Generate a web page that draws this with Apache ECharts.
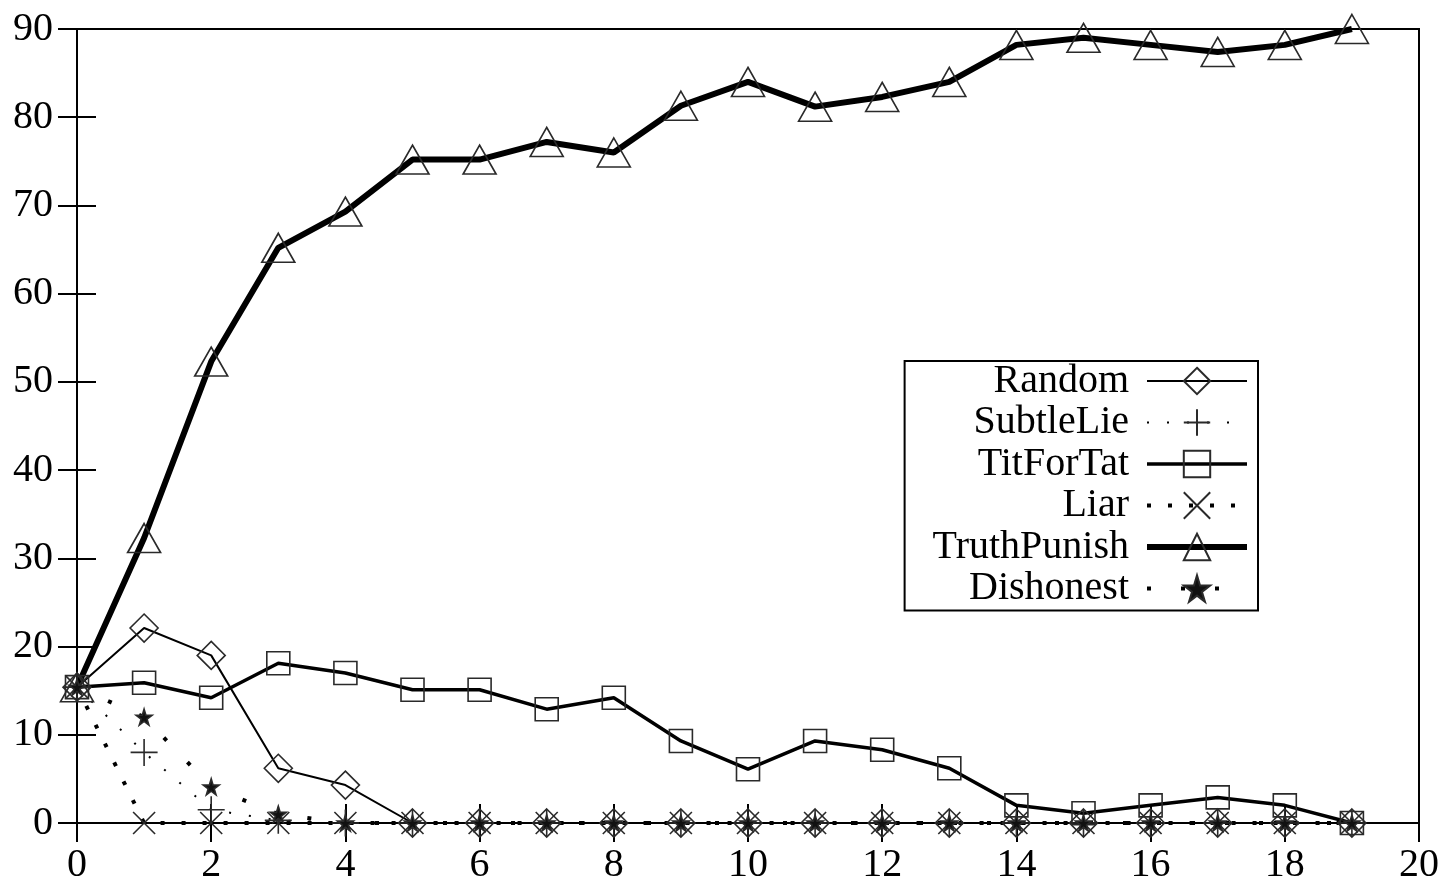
<!DOCTYPE html>
<html><head><meta charset="utf-8">
<script src="https://cdn.jsdelivr.net/npm/echarts@6/dist/echarts.min.js"></script>
<style>html,body{margin:0;padding:0;background:#fff}#c{width:1449px;height:885px}</style>
</head><body><div id="c"></div>
<script>
const generations = [0,1,2,3,4,5,6,7,8,9,10,11,12,13,14,15,16,17,18,19];
const random      = [15.4,22.1,19.0,6.2,4.3,0,0,0,0,0,0,0,0,0,0,0,0,0,0,0];
const subtleLie   = [15.4,8.0,1.5,0.3,0,0,0,0,0,0,0,0,0,0,0,0,0,0,0,0];
const titForTat   = [15.4,15.9,14.2,18.1,17.0,15.1,15.1,12.9,14.2,9.3,6.1,9.3,8.3,6.2,2.0,1.1,2.0,2.9,2.0,0];
const liar        = [15.4,0,0,0,0,0,0,0,0,0,0,0,0,0,0,0,0,0,0,0];
const truthPunish = [15.4,32.3,52.3,65.2,69.3,75.2,75.2,77.2,76.0,81.3,84.0,81.2,82.3,84.0,88.2,89.0,88.2,87.4,88.2,90.0];
const dishonest   = [15.4,12.0,4.1,1.0,0,0,0,0,0,0,0,0,0,0,0,0,0,0,0,0];
const legendNames = ['Random','SubtleLie','TitForTat','Liar','TruthPunish','Dishonest'];
const xTicks = {min:0, max:20, interval:2};
const yTicks = {min:0, max:90, interval:10};

const FONT = 'Liberation Serif';
const SYM = {
  diamond: 'path://M10,0L20,10L10,20L0,10Z',
  plus: 'path://M0,10L20,10M10,0L10,20',
  rect: 'path://M0,0L20,0L20,20L0,20Z',
  cross: 'path://M0,0L20,20M20,0L0,20',
  triangle: 'path://M10,0L20,18L0,18Z',
  star: 'path://M50,0L61,35L98,35L68,57L79,91L50,70L21,91L32,57L2,35L39,35Z'
};
const STYLE = {
  Random:      {sym:SYM.diamond,  size:28,      lw:2,   dash:'solid'},
  SubtleLie:   {sym:SYM.plus,     size:27,      lw:2,   dash:[2,18]},
  TitForTat:   {sym:SYM.rect,     size:23,      lw:3.5, dash:'solid'},
  Liar:        {sym:SYM.cross,    size:22,      lw:4,   dash:[4,17]},
  TruthPunish: {sym:SYM.triangle, size:[33,29], lw:6,   dash:'solid'},
  Dishonest:   {sym:SYM.star,     size:16,      lw:4,   dash:[4,30], fill:'#111'}
};
function pts(arr){ return arr.map((v,i)=>[generations[i], v]); }
function mk(name, data){
  const s = STYLE[name];
  return {
    name, type:'line', data: pts(data), symbol: s.sym, symbolSize: s.size, clip:false,
    showAllSymbol:true, animation:false,
    itemStyle:{color: s.fill||'rgba(0,0,0,0)', borderColor:'#2a2a2a', borderWidth:1.6},
    lineStyle:{color:'#000', width: s.lw, type: s.dash, cap:'butt'},
    emphasis:{disabled:true}
  };
}
const chart = echarts.init(document.getElementById('c'), null, {renderer:'canvas'});
const axisLabel = {color:'#000', fontFamily:FONT, fontSize:40};
const tick = {inside:true, length:19, lineStyle:{color:'#000', width:2}};
chart.setOption({
  backgroundColor:'#fff',
  animation:false,
  grid:{left:77, top:29, right:30, bottom:62, show:true, borderColor:'#000', borderWidth:2},
  xAxis:[
    {type:'value', min:xTicks.min, max:xTicks.max, interval:xTicks.interval,
     axisLine:{show:false}, splitLine:{show:false}, axisTick:tick,
     axisLabel:Object.assign({margin:22}, axisLabel)},
    {type:'value', position:'top', min:xTicks.min, max:xTicks.max, interval:xTicks.interval,
     axisLine:{show:false}, splitLine:{show:false}, axisTick:tick, axisLabel:{show:false}}
  ],
  yAxis:[
    {type:'value', min:yTicks.min, max:yTicks.max, interval:yTicks.interval,
     axisLine:{show:false}, splitLine:{show:false}, axisTick:tick,
     axisLabel:Object.assign({margin:24}, axisLabel)},
    {type:'value', position:'right', min:yTicks.min, max:yTicks.max, interval:yTicks.interval,
     axisLine:{show:false}, splitLine:{show:false}, axisTick:tick, axisLabel:{show:false}}
  ],
  legend:{
    orient:'vertical', align:'right', right:191, top:361,
    backgroundColor:'#fff', borderColor:'#000', borderWidth:2,
    padding:[0,8,2,28], itemGap:1.5, itemWidth:100, itemHeight:33,
    textStyle:{color:'#000', fontFamily:FONT, fontSize:40, padding:[0,13,0,0]},
    data: legendNames.map(n => ({
      name:n, lineStyle:{color:'#000', width:STYLE[n].lw, type:STYLE[n].dash, cap:'butt'}
    }))
  },
  series:[
    mk('Random', random),
    mk('SubtleLie', subtleLie),
    mk('TitForTat', titForTat),
    mk('Liar', liar),
    mk('Dishonest', dishonest),
    mk('TruthPunish', truthPunish)
  ]
});
</script></body></html>
